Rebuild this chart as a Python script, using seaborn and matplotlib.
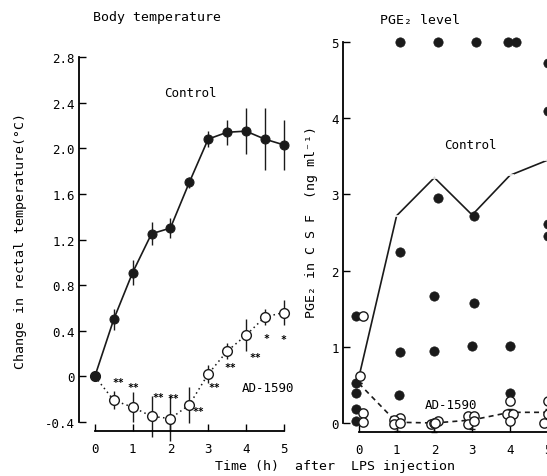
import numpy as np
import pandas as pd
import seaborn as sns
import matplotlib.pyplot as plt

sns.set_theme(style="ticks")
plt.rcParams['font.family'] = ['DejaVu Sans Mono', 'DejaVu Sans']
plt.rcParams['font.size'] = 9
plt.rcParams['text.color'] = 'black'
plt.rcParams['axes.edgecolor'] = 'black'
plt.rcParams['xtick.color'] = 'black'
plt.rcParams['ytick.color'] = 'black'

# --- body temperature (left panel) ---
temp_time = [0, 0.5, 1, 1.5, 2, 2.5, 3, 3.5, 4, 4.5, 5]
ctrl_temp = [0, 0.50, 0.91, 1.25, 1.30, 1.70, 2.08, 2.14, 2.15, 2.08, 2.03]
ctrl_temp_sem = [0, 0.09, 0.11, 0.10, 0.09, 0.05, 0.07, 0.11, 0.20, 0.27, 0.22]
ad_temp = [0, -0.21, -0.27, -0.35, -0.37, -0.25, 0.02, 0.22, 0.36, 0.52, 0.56]
ad_temp_sem = [0, 0.08, 0.13, 0.18, 0.20, 0.16, 0.08, 0.07, 0.14, 0.07, 0.11]
ad_signif = ['', '**', '**', '**', '**', '**', '**', '**', '**', '*', '*']
temp_ticks = [-0.4, 0, 0.4, 0.8, 1.2, 1.6, 2.0, 2.4, 2.8]
temp_ticklabels = ['-0.4', '0', '0.4', '0.8', '1.2', '1.6', '2.0', '2.4', '2.8']

# --- PGE2 in CSF (right panel) ---
pge_time = [0, 1, 2, 3, 4, 5]
ctrl_pge_mean = [0.60, 2.72, 3.22, 2.73, 3.25, 3.45]
ad_pge_mean = [0.52, 0.01, 0.00, 0.04, 0.14, 0.14]
ad_pge_err_lo = [0, 0.12, 0.12, 0.12, 0.15, 0.12]
ad_pge_err_hi = [0, 0.04, 0.04, 0.04, 0.04, 0.04]

ctrl_pge_t = [0, 0, 0, 0, 0, 1, 1, 1, 1, 2, 2, 2, 2, 3, 3, 3, 3, 4, 4, 4, 4, 5, 5, 5, 5]
ctrl_pge_val = [1.40, 0.53, 0.40, 0.18, 0.03,
                5.0, 2.25, 0.93, 0.37,
                5.0, 2.95, 1.67, 0.95,
                5.0, 2.72, 1.58, 1.01,
                5.0, 5.0, 1.01, 0.39,
                4.72, 4.09, 2.61, 2.45]
ad_pge_t = [0, 0, 0, 0, 1, 1, 1, 1, 2, 2, 2, 2, 3, 3, 3, 3, 4, 4, 4, 4, 5, 5, 5]
ad_pge_val = [1.40, 0.62, 0.13, 0.01,
              0.07, 0.04, -0.01, 0.00,
              -0.01, 0.00, 0.03, 0.00,
              0.09, 0.09, -0.01, 0.02,
              0.29, 0.12, 0.12, 0.02,
              0.29, 0.12, 0.00]

# horizontal spread of the individual dots (layout only)
ctrl_dx = [-0.07] * 5 + [0.1, 0.1, 0.1, 0.05] + [0.1, 0.1, 0, 0] + \
          [0.1, 0.05, 0.05, 0] + [-0.05, 0.17, 0, 0] + [0.0] * 4
ad_dx = [0.12, 0.03, 0.1, 0.1, 0.08, -0.06, -0.06, 0.08,
         -0.1, 0.0, 0.1, 0.02, -0.1, 0.06, -0.1, 0.06,
         0.0, -0.08, 0.08, 0.0, 0.0, 0.0, -0.1]
# star offsets from the AD-1590 points, in pixels (layout only)
star_dx = [0, 5, 1, 7, 3, 9, 6, 3, 9, 2, 0]
star_dy = [0, 18, 20, 19, 21, -6, -13, -16, -22, -21, -27]

ctrl_df = pd.DataFrame({'x': np.array(ctrl_pge_t) + np.array(ctrl_dx), 'PGE2': ctrl_pge_val})
ad_df = pd.DataFrame({'x': np.array(ad_pge_t) + np.array(ad_dx), 'PGE2': ad_pge_val})

fig = plt.figure(figsize=(5.47, 4.77), dpi=100)
ax1 = fig.add_axes([79 / 547, 1 - 423 / 477, 216 / 547, 365 / 477])
ax2 = fig.add_axes([343 / 547, 1 - 424 / 477, 216 / 547, 381 / 477])

# left panel
ax1.errorbar(temp_time, ad_temp, yerr=ad_temp_sem, fmt='none', ecolor='k', elinewidth=1, capsize=0, clip_on=False)
ax1.errorbar(temp_time, ctrl_temp, yerr=ctrl_temp_sem, fmt='none', ecolor='k', elinewidth=1, capsize=0, clip_on=False)
sns.lineplot(x=temp_time, y=ad_temp, ax=ax1, color='k', lw=1.1, linestyle=(0, (1, 2.2)),
             marker='o', markersize=7, markerfacecolor='white', markeredgecolor='k',
             markeredgewidth=1, clip_on=False, zorder=3)
sns.lineplot(x=temp_time, y=ctrl_temp, ax=ax1, color='k', lw=1.2,
             marker='o', markersize=6.5, markerfacecolor='k', markeredgecolor='k', clip_on=False, zorder=4)
for t, v, s, dx, dy in zip(temp_time, ad_temp, ad_signif, star_dx, star_dy):
    if s:
        ax1.annotate(s, (t, v), xytext=(dx, dy), textcoords='offset pixels',
                     ha='center', va='center', fontsize=7, fontweight='bold')
ax1.text(2.54, 2.49, 'Control', ha='center', va='center', fontsize=9)
ax1.text(4.58, -0.10, 'AD-1590', ha='center', va='center', fontsize=9)
ax1.set_xlim(-0.42, 5.3)
ax1.set_ylim(-0.4, 2.8)
ax1.set_yticks(temp_ticks, temp_ticklabels)
ax1.set_xticks(pge_time)

# right panel
ax2.errorbar(pge_time, ad_pge_mean, yerr=[ad_pge_err_lo, ad_pge_err_hi], fmt='none', ecolor='k',
             elinewidth=1, capsize=2.5, capthick=1, clip_on=False)
sns.lineplot(x=pge_time, y=ctrl_pge_mean, ax=ax2, color='k', lw=1.2, marker='_',
             markersize=6, markeredgewidth=1.2, clip_on=False, zorder=2)
sns.lineplot(x=pge_time, y=ad_pge_mean, ax=ax2, color='k', lw=1.2, linestyle=(0, (3, 2.5)),
             clip_on=False, zorder=2)
sns.scatterplot(data=ctrl_df, x='x', y='PGE2', ax=ax2, color='k', s=45, edgecolor='k',
                linewidth=0.5, clip_on=False, zorder=3)
sns.scatterplot(data=ad_df, x='x', y='PGE2', ax=ax2, facecolor='white', s=45, edgecolor='k',
                linewidth=1, clip_on=False, zorder=4)
ax2.text(2.94, 3.65, 'Control', ha='center', va='center', fontsize=9)
ax2.text(2.44, 0.24, 'AD-1590', ha='center', va='center', fontsize=9)
ax2.set_xlim(-0.42, 5.3)
ax2.set_ylim(0, 5)
ax2.set_yticks([0, 1, 2, 3, 4, 5])
ax2.set_xticks(pge_time)

for ax in (ax1, ax2):
    ax.set_xlabel('')
    ax.set_ylabel('')
    ax.tick_params(direction='in', length=5, width=1, labelsize=9, pad=3)
    ax.tick_params(axis='x', pad=8)
    for sp in ax.spines.values():
        sp.set_linewidth(1.3)
    sns.despine(ax=ax, offset={'bottom': 6.5, 'left': 0}, trim=True)

fig.text(0.287, 0.964, 'Body temperature', ha='center', va='center', fontsize=9.5)
fig.text(0.768, 0.958, 'PGE\u2082 level', ha='center', va='center', fontsize=9.5)
fig.text(0.037, 0.495, 'Change in rectal temperature(\u00b0C)', rotation=90,
         ha='center', va='center', fontsize=9.5)
fig.text(0.570, 0.535, 'PGE\u2082 in C S F  (ng ml\u207b\u00b9)', rotation=90,
         ha='center', va='center', fontsize=9.5)
fig.text(0.612, 0.021, 'Time (h)  after  LPS injection', ha='center', va='center', fontsize=9.5)

fig.savefig('out.png', dpi=100)
